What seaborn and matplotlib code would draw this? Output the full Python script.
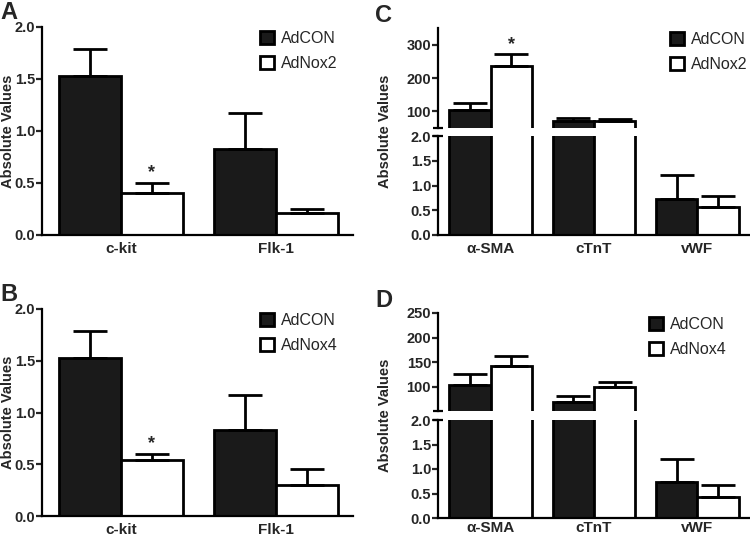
import matplotlib
matplotlib.use("Agg")
import matplotlib.pyplot as plt
import pandas as pd
import seaborn as sns
from matplotlib.patches import Patch

sns.set_style("white")
plt.rcParams["font.family"] = ["Liberation Sans", "DejaVu Sans"]

# data
groups_ab = ["c-kit", "Flk-1"]
groups_cd = ["\u03b1-SMA", "cTnT", "vWF"]

a_con = [1.53, 0.83]
a_con_err = [0.26, 0.34]
a_nox2 = [0.40, 0.21]
a_nox2_err = [0.10, 0.04]

b_con = [1.53, 0.83]
b_con_err = [0.26, 0.34]
b_nox4 = [0.54, 0.30]
b_nox4_err = [0.06, 0.15]

c_con = [103, 70, 0.72]
c_con_err = [22, 11, 0.49]
c_nox2 = [236, 71, 0.56]
c_nox2_err = [35, 6, 0.23]

d_con = [103, 68, 0.73]
d_con_err = [23, 12, 0.47]
d_nox4 = [142, 99, 0.43]
d_nox4_err = [20, 11, 0.25]

BLACK = "#1a1a1a"
LW = 2.0


def make_df(groups, con, nox, nox_name):
    return pd.DataFrame({
        "marker": groups + groups,
        "value": con + nox,
        "treat": ["AdCON"] * len(groups) + [nox_name] * len(groups),
    })


def draw_bars(ax, df, errs, xlim, xpad=5):
    sns.barplot(data=df, x="marker", y="value", hue="treat",
                palette=[BLACK, "white"], edgecolor="black", linewidth=LW,
                errorbar=None, width=0.8, legend=False, ax=ax)
    vals = df["value"].tolist()
    n = len(vals) // 2
    bar_sets = list(ax.containers)
    for i, cont in enumerate(bar_sets):
        xs = [b.get_x() + b.get_width() / 2 for b in cont]
        ys = vals[i * n:(i + 1) * n]
        ax.errorbar(xs, ys, yerr=[[0] * n, errs[i]], fmt="none",
                    ecolor="black", elinewidth=LW, capsize=12, capthick=LW,
                    zorder=1)
    ax.set_xlim(*xlim)
    ax.set_xlabel("")
    ax.set_ylabel("")
    for s in ["top", "right"]:
        ax.spines[s].set_visible(False)
    for s in ["left", "bottom"]:
        ax.spines[s].set_linewidth(1.6)
        ax.spines[s].set_color("black")
    ax.tick_params(axis="y", left=True, length=4, width=1.6, pad=1,
                   labelsize=10.5)
    ax.tick_params(axis="x", bottom=False, length=0, pad=xpad, labelsize=11)
    for t in ax.get_xticklabels() + ax.get_yticklabels():
        t.set_fontweight("bold")
    return bar_sets


def star(bar_sets, ax, cont_idx, bar_idx, y):
    b = bar_sets[cont_idx][bar_idx]
    ax.text(b.get_x() + b.get_width() / 2, y, "*", ha="center", va="bottom",
            fontsize=13, fontweight="bold")


def legend(ax, nox_name, x, y):
    handles = [Patch(facecolor=BLACK, edgecolor="black", linewidth=LW),
               Patch(facecolor="white", edgecolor="black", linewidth=LW)]
    ax.legend(handles, ["AdCON", nox_name], loc="upper left",
              bbox_to_anchor=(x, y), bbox_transform=fig.transFigure,
              frameon=False, fontsize=11.5, handlelength=0.9,
              handleheight=0.9, handletextpad=0.4, labelspacing=0.6,
              borderpad=0, borderaxespad=0)


fig = plt.figure(figsize=(7.5, 5.37), dpi=100)
W, H = 750.0, 537.0


def rect(x0, x1, ytop, ybot):
    return [x0 / W, 1 - ybot / H, (x1 - x0) / W, (ybot - ytop) / H]


# panel A and B: simple bars
for (ytop, ybot, nox, nerr, name, letter, sy, cval) in [
        (27, 235, a_nox2, a_nox2_err, "AdNox2", "A", 0.52, a_con),
        (309, 516, b_nox4, b_nox4_err, "AdNox4", "B", 0.62, b_con)]:
    ax = fig.add_axes(rect(42, 353, ytop, ybot))
    df = make_df(groups_ab, cval, nox, name)
    bars = draw_bars(ax, df, [a_con_err, nerr], (-0.51, 1.5))
    ax.set_ylim(0, 2.0)
    ax.set_yticks([0, 0.5, 1.0, 1.5, 2.0])
    ax.set_yticklabels(["0.0", "0.5", "1.0", "1.5", "2.0"],
                       fontweight="bold")
    star(bars, ax, 1, 0, sy)
    legend(ax, name, 260 / W, 1 - (ytop + 4) / H)
    fig.text(8 / W, 1 - (ytop + ybot) / 2 / H, "Absolute Values",
             rotation=90, ha="center", va="center", fontsize=10.5,
             fontweight="bold")
    fig.text(0.0, 1 - (ytop - 26) / H, letter, ha="left", va="top",
             fontsize=17, fontweight="bold")

# panel C and D: broken y axis
for (tt, tb, bt, bb, con, cerr, nox, nerr, name, letter, up_lim, up_ticks,
     star_y, leg_xy, xpad) in [
        (28, 128, 136, 235, c_con, c_con_err, c_nox2, c_nox2_err, "AdNox2",
         "C", (50, 350), [100, 200, 300], 274, (670, 32), 5),
        (313, 411, 420, 518, d_con, d_con_err, d_nox4, d_nox4_err, "AdNox4",
         "D", (50, 250), [100, 150, 200, 250], None, (649, 317), 2)]:
    df = make_df(groups_cd, con, nox, name)
    ax_top = fig.add_axes(rect(438, 749, tt, tb))
    ax_bot = fig.add_axes(rect(438, 749, bt, bb))
    bars_top = draw_bars(ax_top, df, [cerr, nerr], (-0.51, 2.5))
    draw_bars(ax_bot, df, [cerr, nerr], (-0.51, 2.5), xpad=xpad)
    ax_top.set_ylim(*up_lim)
    ax_top.set_yticks(up_ticks)
    ax_top.set_yticklabels([str(v) for v in up_ticks], fontweight="bold")
    ax_top.spines["bottom"].set_visible(False)
    ax_top.set_xticks([])
    ax_bot.set_ylim(0, 2.0)
    ax_bot.set_yticks([0, 0.5, 1.0, 1.5, 2.0])
    ax_bot.set_yticklabels(["0.0", "0.5", "1.0", "1.5", "2.0"],
                           fontweight="bold")
    # break marks on the y axis
    ax_top.plot([0], [0], marker="_", markersize=7, mew=1.6, color="black",
                transform=ax_top.transAxes, clip_on=False)
    ax_bot.plot([0], [1], marker="_", markersize=7, mew=1.6, color="black",
                transform=ax_bot.transAxes, clip_on=False)
    if star_y is not None:
        star(bars_top, ax_top, 1, 0, star_y)
    legend(ax_top, name, leg_xy[0] / W, 1 - leg_xy[1] / H)
    fig.text(385 / W, 1 - (tt + bb) / 2 / H, "Absolute Values",
             rotation=90, ha="center", va="center", fontsize=10.5,
             fontweight="bold")
    fig.text(375 / W, 1 - (tt - 24) / H, letter, ha="left", va="top",
             fontsize=17, fontweight="bold")

fig.savefig("out.png", dpi=100)
